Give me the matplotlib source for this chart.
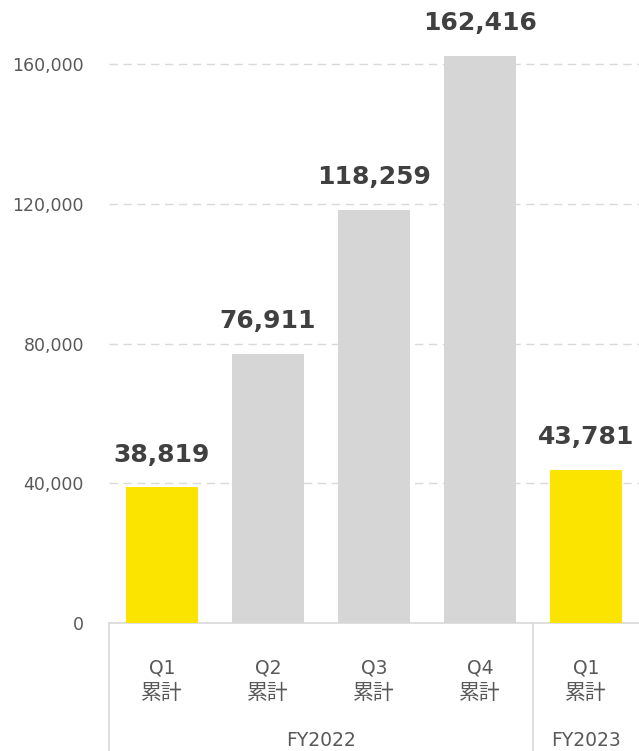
import matplotlib
matplotlib.use('Agg')
import matplotlib.pyplot as plt
import matplotlib.transforms as transforms

plt.rcParams['font.family'] = ['DejaVu Sans', 'Noto Sans CJK JP']

quarters = ['Q1', 'Q2', 'Q3', 'Q4', 'Q1']
sub_label = '累計'
years = ['FY2022', 'FY2023']
year_span = [4, 1]
values = [38819, 76911, 118259, 162416, 43781]
colors = ['#FAE400', '#D6D6D6', '#D6D6D6', '#D6D6D6', '#FAE400']
yticks = [0, 40000, 80000, 120000, 160000]

W, H = 639, 751
fig = plt.figure(figsize=(W / 100, H / 100), dpi=100)
ax_bottom = (H - 623) / H
ax_h = (623 - 11.6) / H
ax = fig.add_axes([109 / W, ax_bottom, (W - 109) / W, ax_h])

x = list(range(len(values)))
ax.bar(x, values, width=0.68, color=colors, zorder=3)

for xi, v in zip(x, values):
    ax.annotate(f'{v:,}', (xi, v), xytext=(0, 15), textcoords='offset points',
                ha='center', va='bottom', fontsize=18, fontweight='bold',
                color='#404040', annotation_clip=False)

ax.set_xlim(-0.5, len(values) - 0.5)
ax.set_ylim(0, 175000)
ax.set_yticks(yticks)
ax.set_yticklabels([f'{t:,}' for t in yticks])
ax.tick_params(axis='y', length=0, pad=18, labelsize=12.5, labelcolor='#595959')
ax.set_xticks([])

ax.yaxis.grid(True, color='#D9D9D9', linestyle=(0, (6, 4)), linewidth=1.0, zorder=0)
for side in ['left', 'right', 'top']:
    ax.spines[side].set_visible(False)
ax.spines['bottom'].set_color('#D9D9D9')
ax.spines['bottom'].set_linewidth(1.2)

# two-level category axis below the plot
trans = transforms.blended_transform_factory(ax.transData, fig.transFigure)
for xi, q in zip(x, quarters):
    ax.text(xi, 1 - 668 / H, q, transform=trans, ha='center', va='center',
            fontsize=13.5, color='#595959')
    ax.text(xi, 1 - 693 / H, sub_label, transform=trans, ha='center', va='center',
            fontsize=15, color='#595959', family=['Noto Sans CJK JP'])

start = 0
bounds = [-0.5]
for yr, span in zip(years, year_span):
    mid = start + (span - 1) / 2
    ax.text(mid, 1 - 740 / H, yr, transform=trans, ha='center', va='center',
            fontsize=13.5, color='#595959')
    start += span
    bounds.append(start - 0.5)

# last boundary sits on the figure edge, so only draw the inner ones
for b in bounds[:-1]:
    ax.plot([b, b], [0, 1 - 623 / H], transform=trans, color='#D9D9D9',
            linewidth=1.2, clip_on=False)

fig.savefig('out.png', dpi=100)
